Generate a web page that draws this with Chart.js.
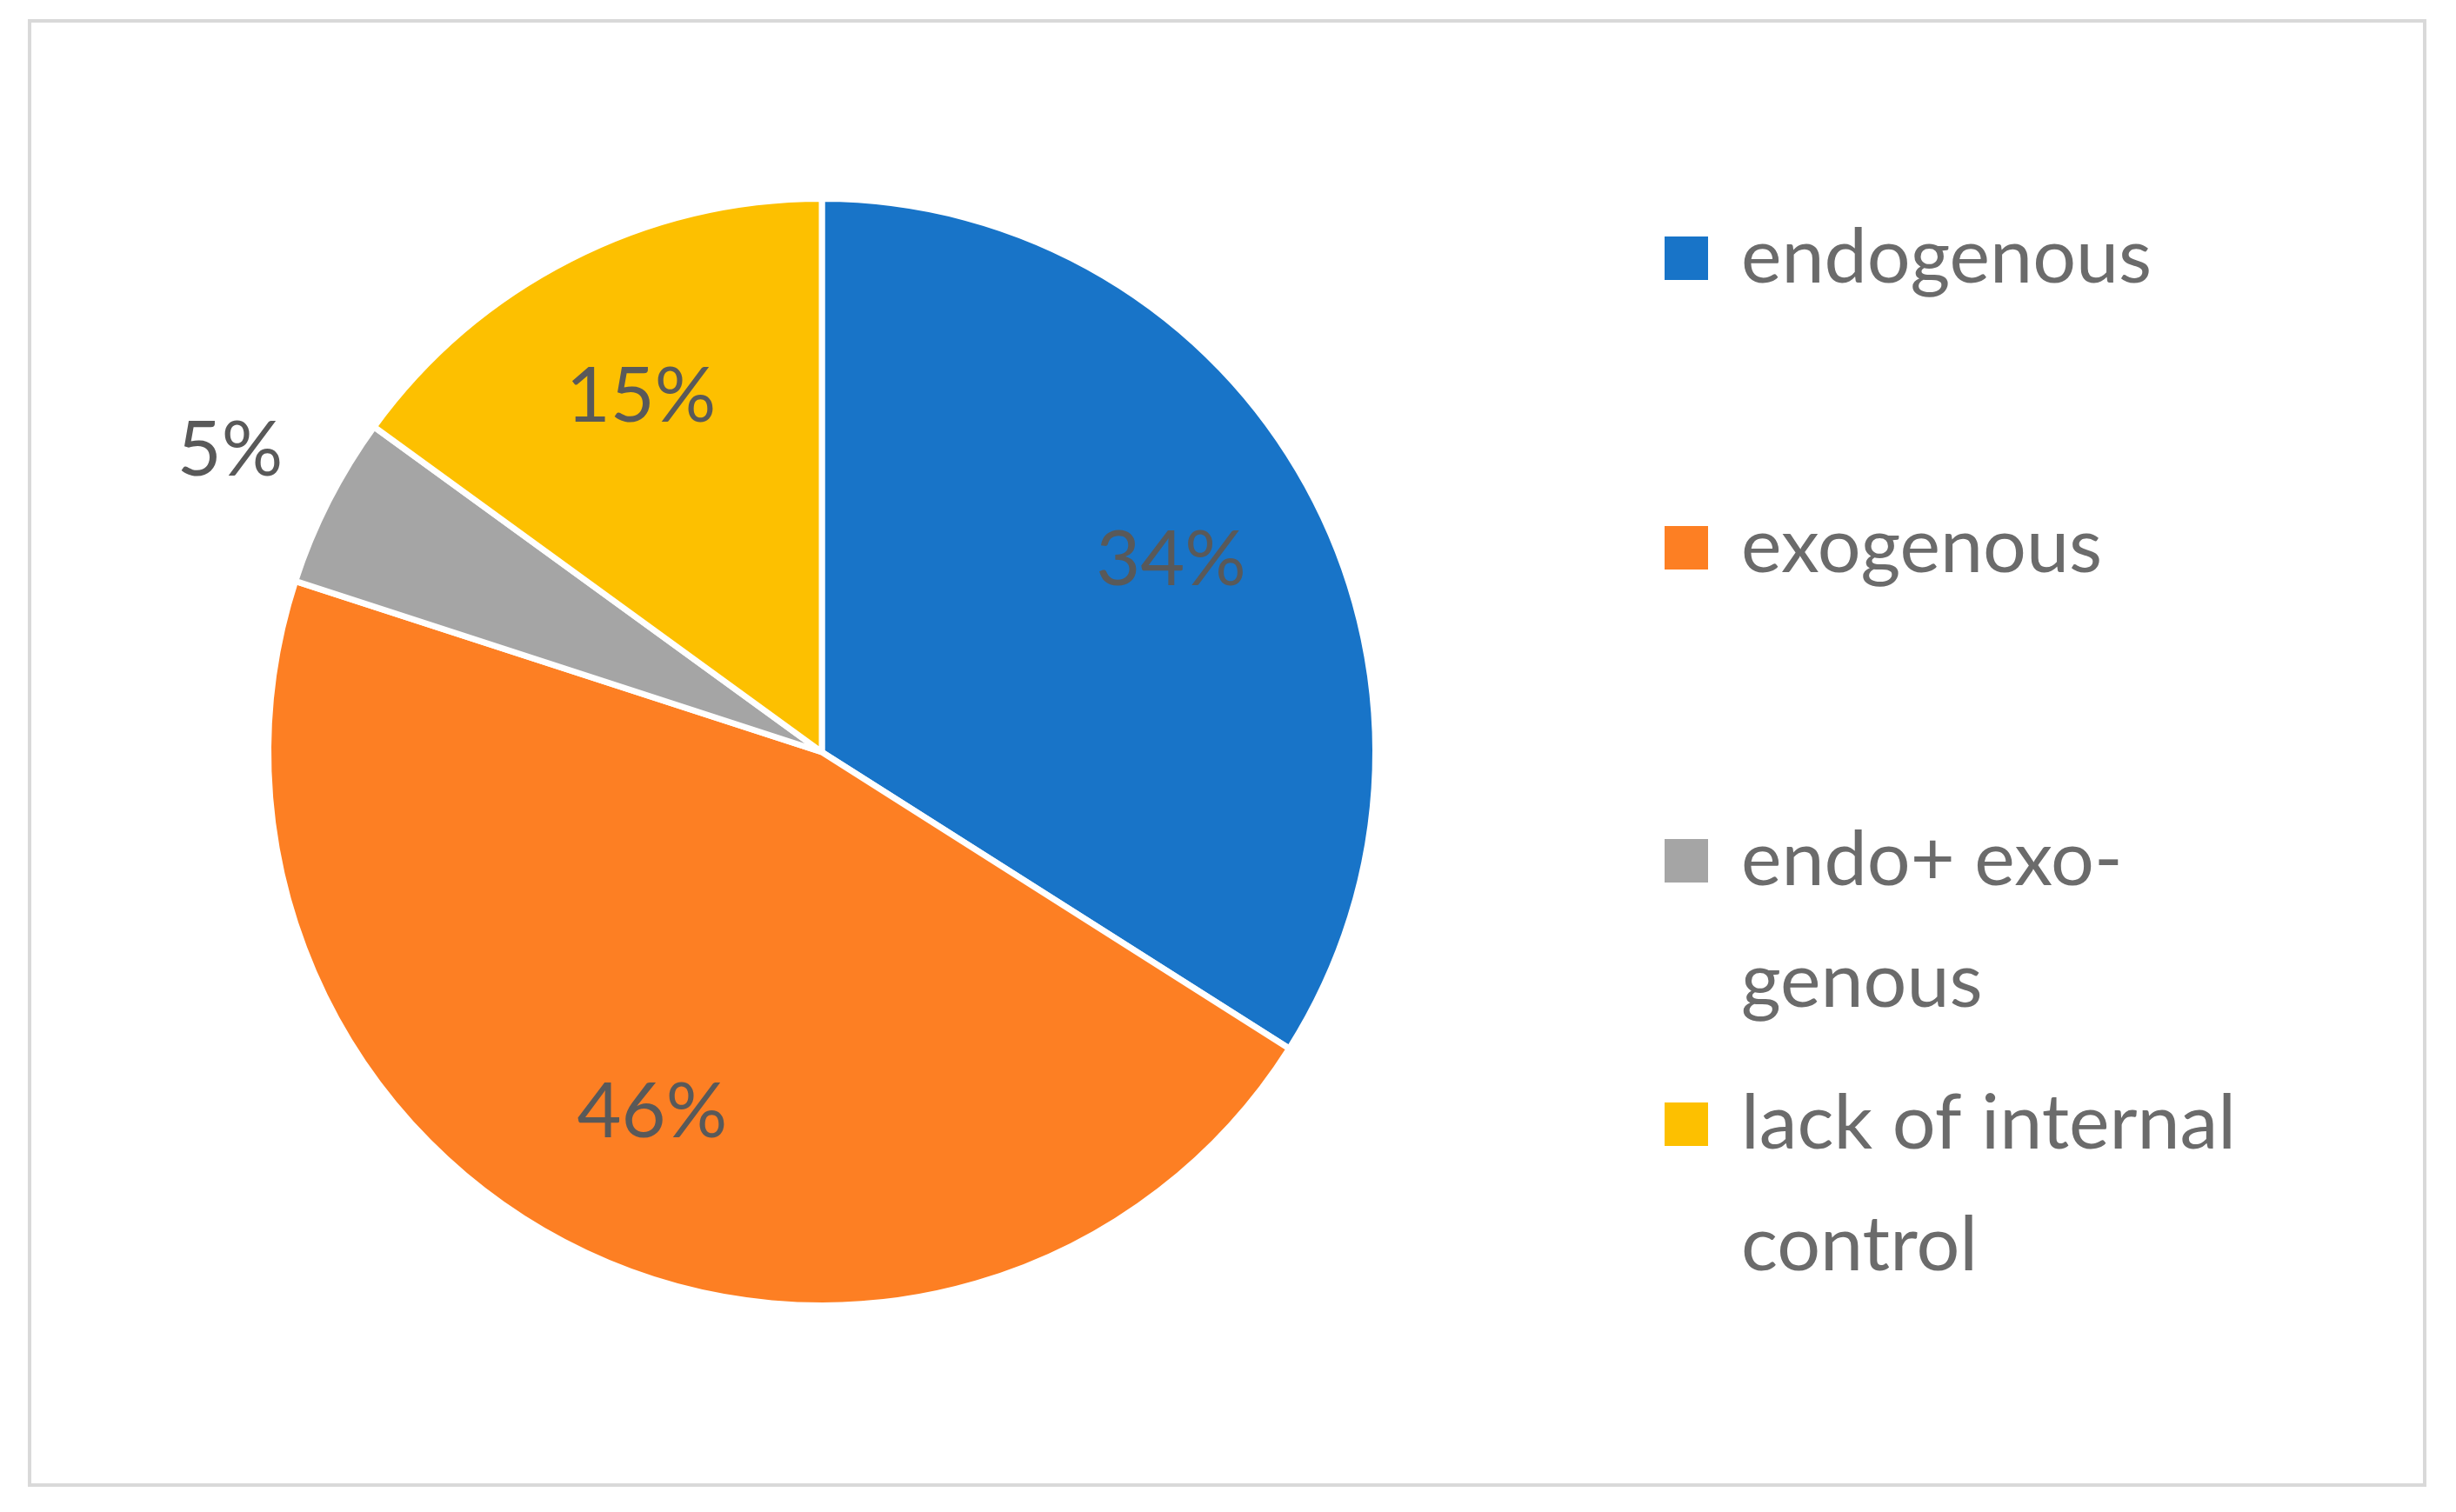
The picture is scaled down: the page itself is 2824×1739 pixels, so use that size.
<!DOCTYPE html>
<html><head><meta charset="utf-8">
<script src="https://cdn.jsdelivr.net/npm/chart.js@4"></script>
<style>html,body{margin:0;padding:0;background:#fff}#c{display:block}</style>
</head><body>
<canvas id="c" width="2824" height="1739"></canvas>
<script>
const categories = ["endogenous", "exogenous", "endo+ exo-genous", "lack of internal control"];
const legendLines = [["endogenous"], ["exogenous"], ["endo+ exo-", "genous"], ["lack of internal", "control"]];
const values = [34, 46, 5, 15];
const labels = ["34%", "46%", "5%", "15%"];
const colors = ["#1874c8", "#fd7f23", "#a5a5a5", "#fdc000"];

const FONT = "Lato, 'Open Sans', sans-serif";
const overlay = {
  id: 'overlay',
  beforeDraw(chart) {
    const ctx = chart.ctx;
    ctx.save();
    ctx.fillStyle = '#fff';
    ctx.fillRect(0, 0, chart.width, chart.height);
    ctx.strokeStyle = '#d9d9d9';
    ctx.lineWidth = 4;
    ctx.strokeRect(34, 24, 2754, 1684);
    ctx.restore();
  },
  afterDraw(chart) {
    const ctx = chart.ctx;
    const meta = chart.getDatasetMeta(0);
    ctx.save();
    ctx.font = "88px " + FONT;
    ctx.fillStyle = '#595959';
    ctx.textAlign = 'center';
    ctx.textBaseline = 'middle';
    meta.data.forEach((arc, i) => {
      const mid = (arc.startAngle + arc.endAngle) / 2;
      const f = values[i] < 8 ? 1.2 : 0.72;
      const r = arc.outerRadius * f;
      ctx.fillText(labels[i], arc.x + Math.cos(mid) * r, arc.y + Math.sin(mid) * r);
    });
    // legend
    const ys = [297, 630, 990, 1293];
    ctx.textAlign = 'left';
    ctx.fillStyle = '#666666';
    legendLines.forEach((lines, i) => {
      ctx.fillStyle = colors[i];
      ctx.fillRect(1914, ys[i] - 25, 50, 50);
      ctx.fillStyle = '#6b6b6b';
      lines.forEach((t, j) => ctx.fillText(t, 2002, ys[i] + j * 140));
    });
    ctx.restore();
  }
};

new Chart(document.getElementById('c'), {
  type: 'pie',
  data: { labels: categories, datasets: [{ data: values, backgroundColor: colors, borderColor: '#fff', borderWidth: 7 }] },
  options: {
    responsive: false, animation: false,
    layout: { padding: { left: 305, top: 225, right: 1239, bottom: 234 } },
    plugins: { legend: { display: false }, tooltip: { enabled: false } }
  },
  plugins: [overlay]
});
</script>
</body></html>
